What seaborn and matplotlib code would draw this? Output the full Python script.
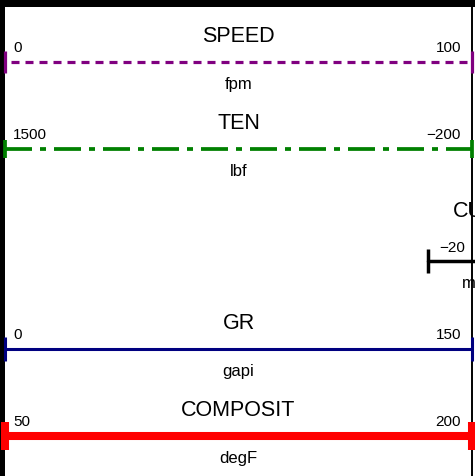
import matplotlib
matplotlib.use("Agg")
import matplotlib.pyplot as plt
from matplotlib.patches import Rectangle
import seaborn as sns

# Curve header data
curve_names = ["SPEED", "TEN", "GR", "COMPOSIT"]
curve_units = ["fpm", "lbf", "gapi", "degF"]
left_values = [0, 1500, 0, 50]
right_values = [100, -200, 150, 200]

# Neighbouring track header (only its left end is inside the frame)
side_name = "CU"
side_unit = "mV"
side_left = -20
side_right = 20

sns.set_theme(style="white")
plt.rcParams["font.family"] = ["Liberation Sans", "DejaVu Sans"]

W, H = 475, 476
DPI = 100
fig = plt.figure(figsize=(W / DPI, H / DPI), dpi=DPI)
fig.patch.set_facecolor("white")

# Frame axes in pixel units for borders and header text
frame = fig.add_axes([0, 0, 1, 1])
frame.set_xlim(0, W)
frame.set_ylim(H, 0)
frame.axis("off")
frame.add_patch(Rectangle((0, 0), W, 7, color="black", lw=0))
frame.add_patch(Rectangle((0, 0), 5, H, color="black", lw=0))
frame.plot([472, 472], [0, H], color="black", lw=1.4, solid_capstyle="butt")

PX = 100 / 72  # pixels per point


def fmt(v):
    return f"{v:g}".replace("-", "\u2212")


def dash_style(pattern_px, lw_pt, offset_px=0):
    if pattern_px is None:
        return "-"
    lw_px = lw_pt * PX
    return (offset_px / lw_px, tuple(p / lw_px for p in pattern_px))


styles = [
    dict(color="#800080", lw=2.3, dash=(8, 6), offset=8, tick=22),
    dict(color="#008000", lw=2.7, dash=(27, 8, 6, 8), offset=0, tick=18),
    dict(color="#000080", lw=2.2, dash=None, offset=0, tick=23),
    dict(color="#ff0000", lw=5.8, dash=None, offset=0, tick=27),
]
line_y = [62, 149, 349, 436]

track_x0, track_x1 = 5, 472


def header_axes(x0, x1, y):
    band = 40
    ax = fig.add_axes([x0 / W, 1 - (y + band / 2) / H, (x1 - x0) / W, band / H])
    ax.set_ylim(-1, 1)
    ax.axis("off")
    ax.patch.set_alpha(0)
    return ax


for name, unit, lv, rv, st, y in zip(curve_names, curve_units, left_values,
                                     right_values, styles, line_y):
    ax = header_axes(track_x0, track_x1, y)
    ax.set_xlim(lv, rv)
    sns.lineplot(x=[lv, rv], y=[0, 0], ax=ax, sort=False, color=st["color"],
                 linewidth=st["lw"],
                 linestyle=dash_style(st["dash"], st["lw"], st["offset"]),
                 marker="|", markersize=st["tick"] / PX,
                 markeredgewidth=st["lw"], markeredgecolor=st["color"],
                 clip_on=False, legend=False)
    cx = (track_x0 + track_x1) / 2
    frame.text(cx, y - 20, name, ha="center", va="baseline", fontsize=15.5,
               color="black")
    frame.text(cx, y + 27, unit, ha="center", va="baseline", fontsize=12,
               color="black")
    frame.text(track_x0 + 8, y - 10, fmt(lv), ha="left", va="baseline",
               fontsize=11, color="black")
    frame.text(track_x1 - 11, y - 10, fmt(rv), ha="right", va="baseline",
               fontsize=11, color="black")

# Side track, starting near the right border
side_x0, side_x1, side_y = 428, 895, 261
ax = header_axes(side_x0, side_x1, side_y)
ax.set_xlim(side_left, side_right)
sns.lineplot(x=[side_left, side_right], y=[0, 0], ax=ax, sort=False,
             color="black", linewidth=2.5, marker="|", markersize=23 / PX,
             markeredgewidth=2.5, markeredgecolor="black", clip_on=False,
             legend=False)
frame.text(453, 217, side_name, ha="left", va="baseline", fontsize=15.5,
           color="black")
frame.text(side_x0 + 11, side_y - 9, fmt(side_left), ha="left",
           va="baseline", fontsize=11, color="black")
frame.text(462, 288, side_unit, ha="left", va="baseline", fontsize=12,
           color="black")

fig.savefig("out.png", dpi=DPI)
